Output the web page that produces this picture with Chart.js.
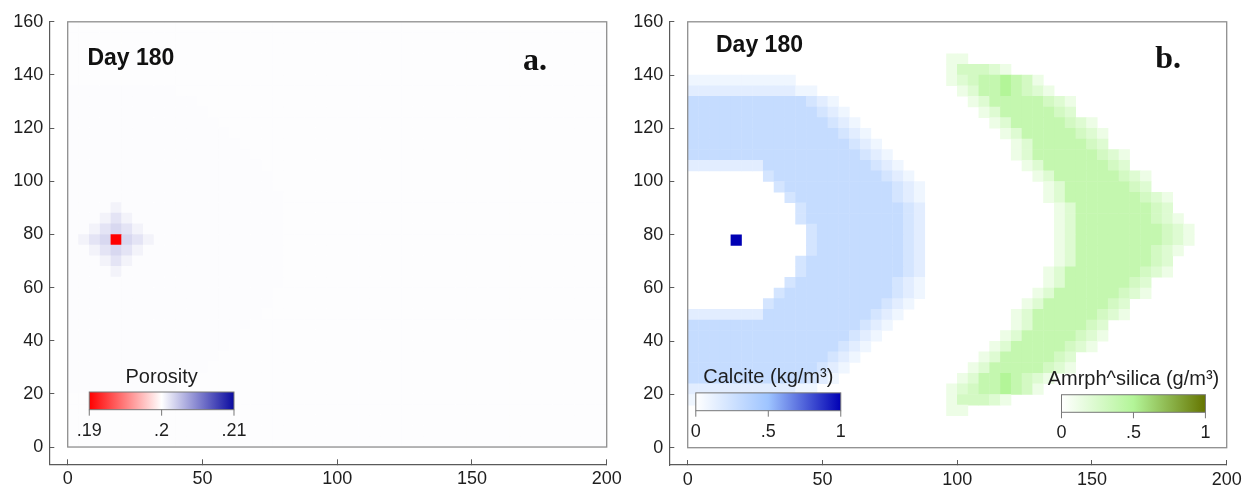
<!DOCTYPE html>
<html>
<head>
<meta charset="utf-8">
<script src="https://cdn.jsdelivr.net/npm/chart.js@4.4.1/dist/chart.umd.min.js"></script>
<style>
  body { margin: 0; background: #fff; width: 1251px; height: 492px; overflow: hidden; position: relative; }
  .panel { position: absolute; top: 0; height: 492px; }
  #wrapA { left: 0; width: 640px; }
  #wrapB { left: 620px; width: 631px; }
</style>
</head>
<body>
<div class="panel" id="wrapA"><canvas id="chartA" width="640" height="492"></canvas></div>
<div class="panel" id="wrapB"><canvas id="chartB" width="631" height="492"></canvas></div>
<script>
// ---- values ----
const CELL = 4;                 // model cell size (x and y units)
const NCOLS = 50, NROWS = 40;   // 200 x 160 domain
const xTicks = [0, 50, 100, 150, 200];
const yTicks = [0, 20, 40, 60, 80, 100, 120, 140, 160];
const dayLabel = 'Day 180';

// panel a: porosity, one string per cell row, top row (y 156-160) first
// '0' background, '1' faint halo, '2'..'4' around the well, 'R' the well cell
const porosityRows = [
  '', '', '', '', '', '',
  '1111111111',
  '111111111111',
  '1111111111111',
  '11111111111111',
  '111111111111111',
  '1111111111111111',
  '11111111111111111',
  '111111111111111111',
  '1111111111111111111',
  '1111111111111111111',
  '11111111111111111111',
  '11112111111111111111',
  '11123211111111111111',
  '11234321111111111111',
  '1234R432111111111111',
  '11234321111111111111',
  '11123211111111111111',
  '11112111111111111111',
  '11111111111111111111',
  '1111111111111111111',
  '1111111111111111111',
  '111111111111111111',
  '11111111111111111',
  '1111111111111111',
  '111111111111111',
  '11111111111111',
  '1111111111111',
  '111111111111',
  '1111111111',
  '', '', '', '', ''
];
const porosityLevels = { '0': 0.2001, '1': 0.20013, '2': 0.2005, '3': 0.2011, '4': 0.2016, 'R': 0.19 };

// panel b: calcite (digits, X = well) and amorphous silica (letters), top row first
const mineralRows = [
  '', '', '',
  '........................aa',
  '........................acccba',
  '1111111111..............abcddedca',
  '222222222211.............abddedcba',
  '44444444444321............abdddddcba',
  '444444444444321............abdddddcb',
  '4444444444444321............abdddddcba',
  '44444444444444321............abdddddcba',
  '444444444444444321............abdddddcb',
  '4444444444444444321...........abddddddcba',
  '22222224444444444321...........abddddddcb',
  '.......34444444444321...........abddddddcba',
  '........34444444444321...........abddddddcb',
  '.........3444444444321...........abdddddddcba',
  '..........344444444432............abdddddddcb',
  '..........344444444432............abdddddddcba',
  '...........34444444432............abddddddddcba',
  '....X......34444444432............abddddddddcba',
  '...........34444444432............abdddddddcba',
  '..........344444444432............abdddddddcb',
  '..........344444444432...........abdddddddcba',
  '.........3444444444321...........abddddddcb',
  '........34444444444321..........abddddddcba',
  '.......34444444444321..........abddddddcb',
  '22222224444444444321..........abddddddcba',
  '4444444444444444321...........abdddddcb',
  '444444444444444321...........abdddddcba',
  '44444444444444321...........abdddddcba',
  '4444444444444321...........abdddddcb',
  '444444444444321...........abdddddcba',
  '44444444444321...........abddedcba',
  '222222222211............abcddedca',
  '1111111111..............acccba',
  '........................aa',
  '', '', ''
];
const calciteLevels = { '1': 0.08, '2': 0.15, '3': 0.22, '4': 0.3, 'X': 1 };
const silicaLevels = { a: 0.12, b: 0.22, c: 0.29, d: 0.39, e: 0.5 };

const porosityTicks = ['.19', '.2', '.21'];
const fractionTicks = ['0', '.5', '1'];

// ---- styles ----
const porosityStops = [[0, '#ff0000'], [0.5, '#ffffff'], [1, '#0a0aa0']];
const calciteStops = [[0, '#ffffff'], [0.5, '#9ec4ff'], [1, '#0000b4']];
const silicaStops = [[0, '#ffffff'], [0.5, '#b3f598'], [1, '#657500']];
const FONT = '"Liberation Sans", Arial, sans-serif';
const TEXT = '#1e1e1e';
const AXIS = '#5a5a5a';
const X_MIN = -6.83, Y_MIN = -6.5;

function hexRgb(h) {
  const n = parseInt(h.slice(1), 16);
  return [n >> 16, (n >> 8) & 255, n & 255];
}

function colorAt(stops, t) {
  t = Math.max(0, Math.min(1, t));
  for (let i = 1; i < stops.length; i++) {
    if (t <= stops[i][0]) {
      const [t0, c0] = stops[i - 1], [t1, c1] = stops[i];
      const f = (t - t0) / (t1 - t0);
      const a = hexRgb(c0), b = hexRgb(c1);
      return 'rgb(' + a.map((v, k) => Math.round(v + (b[k] - v) * f)).join(',') + ')';
    }
  }
  return stops[stops.length - 1][1];
}

function gridCells(rows, levels, fill) {
  const out = [];
  rows.forEach((row, r) => {
    const j = NROWS - 1 - r;
    const line = fill ? row.padEnd(NCOLS, fill) : row;
    for (let i = 0; i < line.length; i++) {
      const v = levels[line[i]];
      if (v !== undefined) out.push({ x: i * CELL + CELL / 2, y: j * CELL + CELL / 2, v });
    }
  });
  return out;
}

function cellRadius(chart) {
  const x = chart.scales.x;
  return (x.getPixelForValue(CELL) - x.getPixelForValue(0)) / Math.SQRT2 + 0.3;
}

function cellDataset(data, stops, norm) {
  const color = c => (c.raw ? colorAt(stops, norm(c.raw.v)) : '#ffffff');
  return {
    data,
    showLine: false,
    pointStyle: 'rect',
    pointRadius: c => cellRadius(c.chart),
    pointHoverRadius: c => cellRadius(c.chart),
    pointBorderWidth: 0,
    pointHoverBorderWidth: 0,
    pointBackgroundColor: color,
    pointHoverBackgroundColor: color,
  };
}

function drawColorbar(ctx, cb, px, py) {
  const x0 = px(cb.x0), x1 = px(cb.x1), top = py(cb.y1), bot = py(cb.y0);
  const g = ctx.createLinearGradient(x0, 0, x1, 0);
  cb.stops.forEach(([t, c]) => g.addColorStop(t, c));
  ctx.fillStyle = g;
  ctx.fillRect(x0, top, x1 - x0, bot - top);
  ctx.strokeStyle = '#777';
  ctx.lineWidth = 1;
  ctx.strokeRect(x0, top, x1 - x0, bot - top);

  ctx.font = '18px ' + FONT;
  ctx.textAlign = 'center';
  ctx.textBaseline = 'middle';
  cb.labels.forEach((lab, i) => {
    const tx = x0 + (x1 - x0) * i / (cb.labels.length - 1);
    ctx.beginPath();
    ctx.moveTo(tx, bot);
    ctx.lineTo(tx, bot + 6);
    ctx.stroke();
    ctx.fillStyle = TEXT;
    ctx.fillText(lab, tx, bot + 21);
  });

  ctx.font = '20px ' + FONT;
  ctx.textBaseline = 'alphabetic';
  ctx.fillStyle = TEXT;
  ctx.fillText(cb.title, (x0 + x1) / 2, top - 9.5);
}

function decor(panel) {
  return {
    id: 'decor',
    afterDatasetsDraw(chart) {
      const { ctx, scales: { x, y } } = chart;
      const px = v => x.getPixelForValue(v);
      const py = v => y.getPixelForValue(v);
      ctx.save();
      // frame around the model domain
      ctx.strokeStyle = '#8e8e8e';
      ctx.lineWidth = 1.3;
      ctx.strokeRect(px(0), py(NROWS * CELL), px(NCOLS * CELL) - px(0), py(0) - py(NROWS * CELL));

      ctx.fillStyle = '#111';
      ctx.textAlign = 'left';
      ctx.textBaseline = 'alphabetic';
      ctx.font = 'bold 23px ' + FONT;
      ctx.fillText(dayLabel, px(panel.dayAt[0]), py(panel.dayAt[1]));
      ctx.font = 'bold 32px "Liberation Serif", "Times New Roman", serif';
      ctx.fillText(panel.letter, px(panel.letterAt[0]), py(panel.letterAt[1]));

      panel.colorbars.forEach(cb => drawColorbar(ctx, cb, px, py));
      ctx.restore();
    }
  };
}

function makeChart(canvas, datasets, panel) {
  return new Chart(canvas.getContext('2d'), {
    type: 'scatter',
    data: { datasets },
    options: {
      responsive: false,
      animation: false,
      devicePixelRatio: 1,
      events: [],
      layout: { padding: { left: 0, top: panel.top, right: panel.right, bottom: 0 } },
      plugins: { legend: { display: false }, tooltip: { enabled: false } },
      scales: {
        x: {
          type: 'linear',
          min: X_MIN,
          max: NCOLS * CELL,
          afterBuildTicks: s => { s.ticks = xTicks.map(value => ({ value })); },
          afterFit: s => { s.height = panel.xHeight; },
          grid: { drawOnChartArea: false, drawTicks: true, tickLength: -5, color: AXIS },
          border: { display: true, color: AXIS, width: 1.2 },
          ticks: {
            color: TEXT, font: { family: FONT, size: 18 }, padding: 9,
            maxRotation: 0, autoSkip: false, callback: v => String(v),
          },
        },
        y: {
          type: 'linear',
          min: Y_MIN,
          max: NROWS * CELL,
          afterBuildTicks: s => { s.ticks = yTicks.map(value => ({ value })); },
          afterFit: s => { s.width = 49.3; },
          grid: { drawOnChartArea: false, drawTicks: true, tickLength: -5, color: AXIS },
          border: { display: true, color: AXIS, width: 1.2 },
          ticks: {
            color: TEXT, font: { family: FONT, size: 18 }, padding: 11,
            autoSkip: false, callback: v => String(v),
          },
        },
      },
    },
    plugins: [decor(panel)],
  });
}

// panel a
makeChart(document.getElementById('chartA'), [
  cellDataset(gridCells(porosityRows, porosityLevels, '0'), porosityStops, v => (v - 0.19) / 0.02),
], {
  top: 14, right: 33.3, xHeight: 27.7,
  dayAt: [7.3, 143.9], letter: 'a.', letterAt: [168.9, 142.0],
  colorbars: [
    { x0: 8.0, x1: 61.7, y0: 14.05, y1: 20.7, stops: porosityStops, labels: porosityTicks, title: 'Porosity' },
  ],
});

// panel b
makeChart(document.getElementById('chartB'), [
  cellDataset(gridCells(mineralRows, calciteLevels), calciteStops, v => v),
  cellDataset(gridCells(mineralRows, silicaLevels), silicaStops, v => v),
], {
  top: 15, right: 24.3, xHeight: 27,
  dayAt: [10.5, 148.7], letter: 'b.', letterAt: [173.5, 142.8],
  colorbars: [
    { x0: 3.0, x1: 56.8, y0: 13.9, y1: 20.6, stops: calciteStops, labels: fractionTicks, title: 'Calcite (kg/m³)' },
    { x0: 138.7, x1: 192.1, y0: 13.3, y1: 19.9, stops: silicaStops, labels: fractionTicks, title: 'Amrph^silica (g/m³)' },
  ],
});
</script>
</body>
</html>
